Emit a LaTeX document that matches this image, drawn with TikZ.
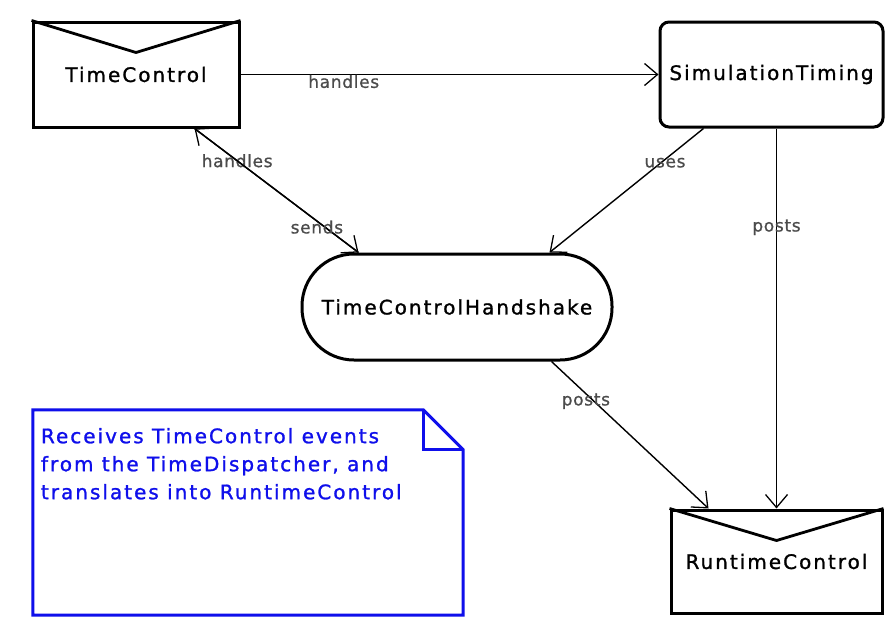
\documentclass[tikz,border=0pt]{standalone}
\usepackage{fontspec}
\setmainfont{DejaVu Sans}
\newfontfamily\nodefont[LetterSpace=10,FakeBold=1.2]{DejaVu Sans}
\newfontfamily\lblfont[LetterSpace=4,FakeBold=0.8]{DejaVu Sans}
\usetikzlibrary{arrows.meta,calc}
\definecolor{noteblue}{RGB}{15,15,235}
\definecolor{lblgray}{RGB}{75,75,75}
\begin{document}
\begin{tikzpicture}[x=1pt,y=-1pt,
  nodebox/.style={draw, line width=3pt, inner sep=0pt, font=\nodefont\fontsize{20}{24}\selectfont},
  envbox/.style={nodebox, rectangle},
  rbox/.style={nodebox, rectangle, rounded corners=9pt},
  stadium/.style={nodebox, rectangle, rounded corners=52pt},
  notebox/.style={rectangle, inner sep=0pt},
  notetext/.style={inner sep=0pt, align=left, text=noteblue, font=\nodefont\fontsize{20}{28}\selectfont},
  noteline/.style={draw=noteblue, line width=3pt, line join=miter},
  edge/.style={draw, line width=1.4pt, -{Straight Barb[length=13pt,width=22pt,line width=1.3pt]}},
  lbl/.style={inner sep=0pt, text=lblgray, font=\lblfont\fontsize{17}{20}\selectfont}]
\useasboundingbox (0,0) rectangle (886,630);
\fill[white] (0,0) rectangle (886,630);

% nodes
\node[envbox, minimum width=206pt, minimum height=105pt] (tc) at (136,74.5) {TimeControl};
\node[rbox, minimum width=223pt, minimum height=105pt] (st) at (771.5,74.5) {SimulationTiming};
\node[stadium, minimum width=310pt, minimum height=106pt] (hs) at (457,307) {TimeControlHandshake};
\node[envbox, minimum width=211pt, minimum height=103pt] (rc) at (776.5,561.5) {RuntimeControl};
\node[notebox, minimum width=430pt, minimum height=205pt] (note) at (248,512.5) {};

% envelope flaps
\draw[line width=2.8pt, line join=bevel] (tc.north west) -- ([yshift=-32pt]tc.north) -- (tc.north east);
\draw[line width=2.8pt, line join=bevel] (rc.north west) -- ([yshift=-32pt]rc.north) -- (rc.north east);

% note
\draw[noteline] (note.north west) -- ([xshift=-40pt]note.north east) -- ([yshift=-40pt]note.north east) -- (note.south east) -- (note.south west) -- cycle;
\draw[noteline] ([xshift=-40pt]note.north east) -- ([xshift=-40pt,yshift=-40pt]note.north east) -- ([yshift=-40pt]note.north east);
\node[notetext, anchor=north west] (nt) at ([shift={(8,18)}]note.north west)
  {Receives TimeControl events\\from the TimeDispatcher, and\\translates into RuntimeControl};

% connectors
\draw[edge] (tc.east) -- node[lbl, pos=0.247, yshift=-7pt] (l1) {handles} (st.west);
\draw[edge] ([xshift=58pt]hs.north west) -- node[lbl, pos=0.74] (l2) {handles} ([xshift=163pt]tc.south west);
\draw[edge] ([xshift=163pt]tc.south west) -- node[lbl, pos=0.795, xshift=-8pt] (l3) {sends} ([xshift=58pt]hs.north west);
\draw[edge] ([xshift=45pt]st.south west) -- node[lbl, pos=0.276, xshift=4pt] (l4) {uses} ([xshift=249pt]hs.north west);
\draw[edge] (rc.north |- st.south) -- node[lbl, pos=0.26] (l5) {posts} (rc.north);
\draw[edge] ([xshift=251pt]hs.south west) -- node[lbl, pos=0.27, xshift=-8pt] (l6) {posts} ([xshift=39pt]rc.north west);
\end{tikzpicture}
\end{document}
